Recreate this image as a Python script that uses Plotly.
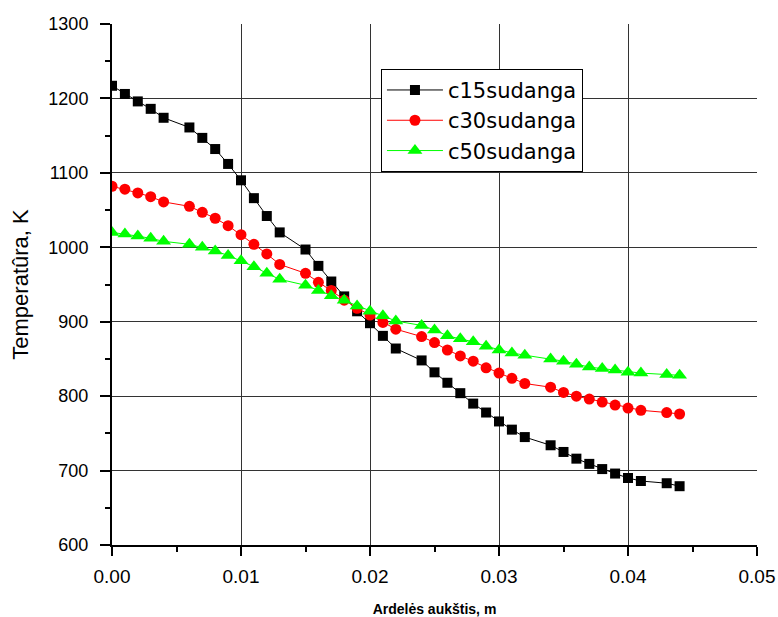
import plotly.graph_objects as go

# Height along the grate (m)
height_m = [0.000, 0.001, 0.002, 0.003, 0.004, 0.006, 0.007, 0.008, 0.009, 0.010,
            0.011, 0.012, 0.013, 0.015, 0.016, 0.017, 0.018, 0.019, 0.020, 0.021,
            0.022, 0.024, 0.025, 0.026, 0.027, 0.028, 0.029, 0.030, 0.031, 0.032,
            0.034, 0.035, 0.036, 0.037, 0.038, 0.039, 0.040, 0.041, 0.043, 0.044]

# Temperature profiles (K)
c15sudanga = [1217, 1206, 1196, 1186, 1174, 1161, 1147, 1132, 1112, 1090,
              1066, 1042, 1020, 997, 975, 954, 934, 914, 898, 881,
              864, 848, 832, 818, 804, 790, 778, 766, 755, 745,
              734, 725, 716, 709, 702, 696, 690, 686, 683, 679]
c30sudanga = [1082, 1078, 1073, 1068, 1061, 1055, 1047, 1039, 1029, 1017,
              1004, 991, 977, 965, 953, 942, 929, 918, 909, 899,
              890, 880, 872, 862, 854, 847, 838, 831, 824, 817,
              812, 805, 800, 796, 792, 788, 784, 781, 778, 776]
c50sudanga = [1020, 1018, 1015, 1012, 1008, 1004, 1000, 995, 989, 982,
              974, 965, 957, 949, 942, 935, 929, 921, 914, 908,
              901, 895, 889, 881, 877, 873, 867, 862, 858, 855,
              850, 847, 843, 839, 837, 835, 832, 831, 829, 828]

x_ticks = [0.00, 0.01, 0.02, 0.03, 0.04, 0.05]
y_ticks = [600, 700, 800, 900, 1000, 1100, 1200, 1300]

series = [
    ("c15sudanga", c15sudanga, "black", "square", 10),
    ("c30sudanga", c30sudanga, "#ff0000", "circle", 11),
    ("c50sudanga", c50sudanga, "#00ff00", "triangle-up", 13),
]

fig = go.Figure()
for name, vals, color, symbol, size in series:
    fig.add_trace(go.Scatter(
        x=height_m, y=vals, name=name, mode="lines+markers",
        line=dict(color=color, width=1),
        marker=dict(color=color, symbol=symbol, size=size, line=dict(width=0)),
    ))

axis_common = dict(
    showline=True, linecolor="black", linewidth=2,
    ticks="outside", tickwidth=2, tickcolor="black",
    showgrid=True, gridcolor="#333333", gridwidth=1.2,
    zeroline=False, mirror=False, automargin=False,
)

fig.update_xaxes(
    range=[0, 0.05], tickvals=x_ticks, ticktext=[f"{v:.2f}" for v in x_ticks],
    ticklen=9, ticklabelstandoff=4,
    minor=dict(ticks="outside", ticklen=5, tickwidth=2, tickcolor="black",
               dtick=0.005, tick0=0, showgrid=False),
    tickfont=dict(family="Liberation Sans Narrow, Arial Narrow, Liberation Sans, Arial",
                  size=19, color="black"),
    title=dict(text="<b>Ardelės aukštis, m</b>", standoff=22,
               font=dict(family="Liberation Sans Narrow, Arial Narrow, Liberation Sans, Arial",
                         size=14, color="black")),
    **axis_common,
)
fig.update_yaxes(
    range=[600, 1300], tickvals=y_ticks,
    ticklen=10, ticklabelstandoff=8,
    minor=dict(ticks="outside", ticklen=5, tickwidth=2, tickcolor="black",
               dtick=50, tick0=600, showgrid=False),
    tickfont=dict(family="Liberation Sans, Arial", size=18, color="black"),
    title=dict(text="Temperatûra, K", standoff=14,
               font=dict(family="Liberation Sans, Arial", size=22, color="black")),
    **axis_common,
)

fig.update_layout(
    width=778, height=617,
    margin=dict(l=112, r=21, t=24, b=72),
    paper_bgcolor="white", plot_bgcolor="white",
    showlegend=True,
    legend=dict(
        x=0.417, y=0.914, xanchor="left", yanchor="top",
        bgcolor="white", bordercolor="black", borderwidth=1,
        font=dict(family="DejaVu Sans, Liberation Sans, Arial", size=21, color="black"),
        itemwidth=56, tracegroupgap=0,
    ),
)

fig.write_html("out.html")
